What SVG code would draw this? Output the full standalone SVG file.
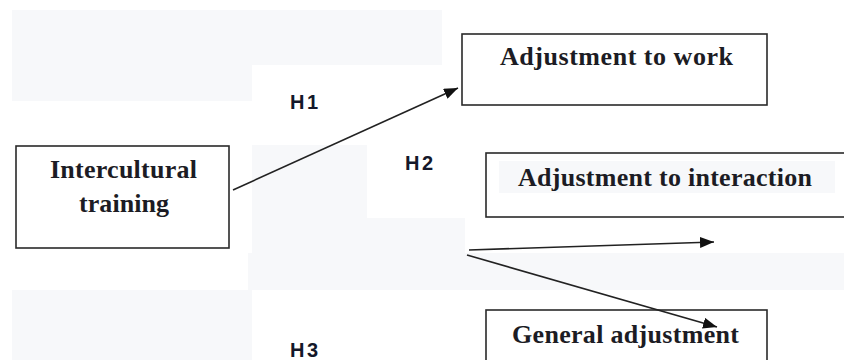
<svg xmlns="http://www.w3.org/2000/svg" width="844" height="360" viewBox="0 0 844 360">
  <style>
    .box { fill: #ffffff; stroke: #2a2a2a; stroke-width: 1.6; }
    .t { font-family: "Liberation Serif", "Times New Roman", serif; font-weight: bold; font-size: 26px; fill: #1c1c24; }
    .h { font-family: "Liberation Sans", Arial, sans-serif; font-weight: bold; font-size: 20px; fill: #14182a; }
    .bg { fill: #f7f8fa; }
    .conn { stroke: #222222; stroke-width: 1.6; fill: none; marker-end: url(#arrow); }
  </style>
  <defs>
    <marker id="arrow" viewBox="0 0 14 11" refX="14" refY="5.5" markerWidth="14" markerHeight="11" markerUnits="userSpaceOnUse" orient="auto">
      <path d="M0,0 L14,5.5 L0,11 Z" fill="#111111"/>
    </marker>
  </defs>
  <rect width="844" height="360" fill="#ffffff"/>
  <g id="background">
    <path class="bg" d="M12,10 H442 V65 H252 V101 H12 Z"/>
    <path class="bg" d="M252,145 H367 V218 H465 V253 H844 V290 H248 V253 H252 Z"/>
    <rect class="bg" x="12" y="290" width="240" height="70"/>
  </g>
  <g id="node-intercultural">
    <rect class="box" x="16" y="146" width="213" height="102"/>
    <text class="t" x="50" y="178" textLength="147" lengthAdjust="spacing">Intercultural</text>
    <text class="t" x="79" y="212" textLength="90" lengthAdjust="spacing">training</text>
  </g>
  <g id="node-work">
    <rect class="box" x="462" y="34" width="305" height="71"/>
    <text class="t" x="500" y="65" textLength="233" lengthAdjust="spacing">Adjustment to work</text>
  </g>
  <g id="node-interaction">
    <rect class="box" x="486" y="153" width="370" height="64"/>
    <rect class="bg" x="499" y="161" width="336" height="32"/>
    <text class="t" x="518" y="186" textLength="294" lengthAdjust="spacing">Adjustment to interaction</text>
  </g>
  <g id="node-general">
    <rect class="box" x="486" y="310" width="281" height="60"/>
    <text class="t" x="512" y="343" textLength="227" lengthAdjust="spacing">General adjustment</text>
  </g>
  <g id="labels">
    <text class="h" x="290" y="109" textLength="28" lengthAdjust="spacing">H1</text>
    <text class="h" x="405" y="170" textLength="28" lengthAdjust="spacing">H2</text>
    <text class="h" x="290" y="357" textLength="28" lengthAdjust="spacing">H3</text>
  </g>
  <g id="connectors">
    <line class="conn" x1="233" y1="190" x2="458" y2="88"/>
    <line class="conn" x1="469" y1="250" x2="714" y2="242"/>
    <line class="conn" x1="467" y1="255" x2="717" y2="327"/>
  </g>
</svg>
